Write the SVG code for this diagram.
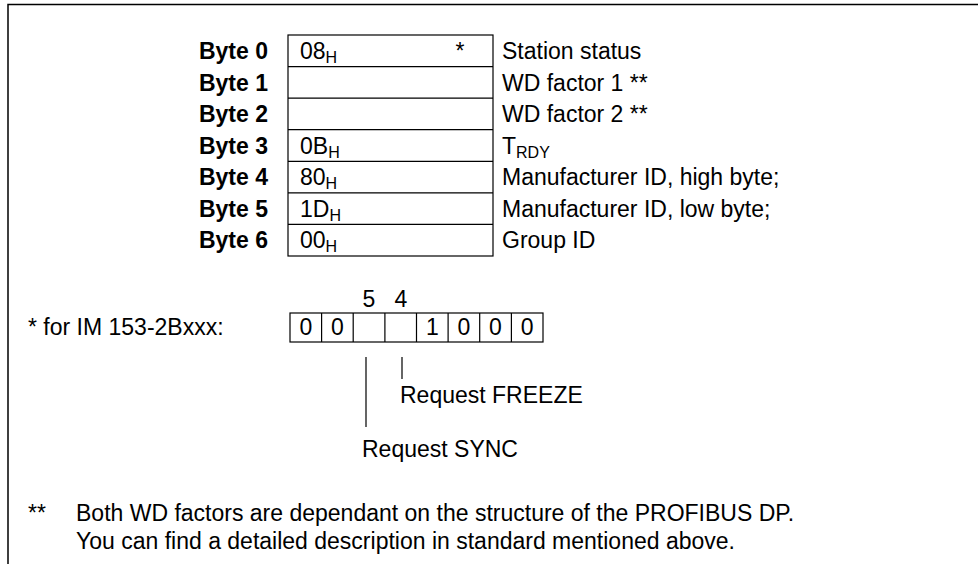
<svg xmlns="http://www.w3.org/2000/svg" width="978" height="564" viewBox="0 0 978 564">
<style>
text{font-family:"Liberation Sans",Arial,sans-serif;font-size:23px;fill:#000}
.b{font-weight:bold;text-anchor:end}
.sub{font-size:16px}
.ln{stroke:#000;stroke-width:1.2;fill:none}
.c{text-anchor:middle}
</style>
<rect width="978" height="564" fill="#fff"/>
<path d="M8 564 V4.5 H978" stroke="#000" stroke-width="1.5" fill="none"/>
<g id="table">
<rect class="ln" x="288" y="35" width="205" height="221"/>
<path class="ln" d="M288 66.6H493M288 98.1H493M288 129.7H493M288 161.3H493M288 192.9H493M288 224.4H493"/>
</g>
<g id="labels">
<text class="b" x="268" y="59">Byte 0</text>
<text class="b" x="268" y="90.5">Byte 1</text>
<text class="b" x="268" y="122">Byte 2</text>
<text class="b" x="268" y="153.6">Byte 3</text>
<text class="b" x="268" y="185.2">Byte 4</text>
<text class="b" x="268" y="216.8">Byte 5</text>
<text class="b" x="268" y="248.4">Byte 6</text>
</g>
<g id="values">
<text x="300" y="59">08<tspan class="sub" dy="4">H</tspan></text>
<text class="c" x="460" y="59">*</text>
<text x="300" y="153.6">0B<tspan class="sub" dy="4">H</tspan></text>
<text x="300" y="185.2">80<tspan class="sub" dy="4">H</tspan></text>
<text x="300" y="216.8">1D<tspan class="sub" dy="4">H</tspan></text>
<text x="300" y="248.4">00<tspan class="sub" dy="4">H</tspan></text>
</g>
<g id="descriptions">
<text x="502" y="59">Station status</text>
<text x="502" y="90.5">WD factor 1 **</text>
<text x="502" y="122">WD factor 2 **</text>
<text x="502" y="153.6">T<tspan class="sub" dy="4">RDY</tspan></text>
<text x="502" y="185.2">Manufacturer ID, high byte;</text>
<text x="502" y="216.8">Manufacturer ID, low byte;</text>
<text x="502" y="248.4">Group ID</text>
</g>
<g id="bits">
<text x="28" y="335">* for IM 153-2Bxxx:</text>
<rect class="ln" x="290" y="313" width="253" height="29"/>
<path class="ln" d="M321.6 313V342M353.2 313V342M384.9 313V342M416.5 313V342M448.1 313V342M479.7 313V342M511.4 313V342"/>
<text class="c" x="305.8" y="335">0</text>
<text class="c" x="337.4" y="335">0</text>
<text class="c" x="432.3" y="335">1</text>
<text class="c" x="463.9" y="335">0</text>
<text class="c" x="495.5" y="335">0</text>
<text class="c" x="527.2" y="335">0</text>
<text class="c" x="369" y="307">5</text>
<text class="c" x="401" y="307">4</text>
</g>
<g id="connectors">
<path class="ln" d="M366 357V427M402 357V379"/>
</g>
<g id="notes">
<text x="400" y="403">Request FREEZE</text>
<text x="362" y="457">Request SYNC</text>
<text x="28" y="521">**</text>
<text x="76" y="521">Both WD factors are dependant on the structure of the PROFIBUS DP.</text>
<text x="76" y="549">You can find a detailed description in standard mentioned above.</text>
</g>
</svg>
